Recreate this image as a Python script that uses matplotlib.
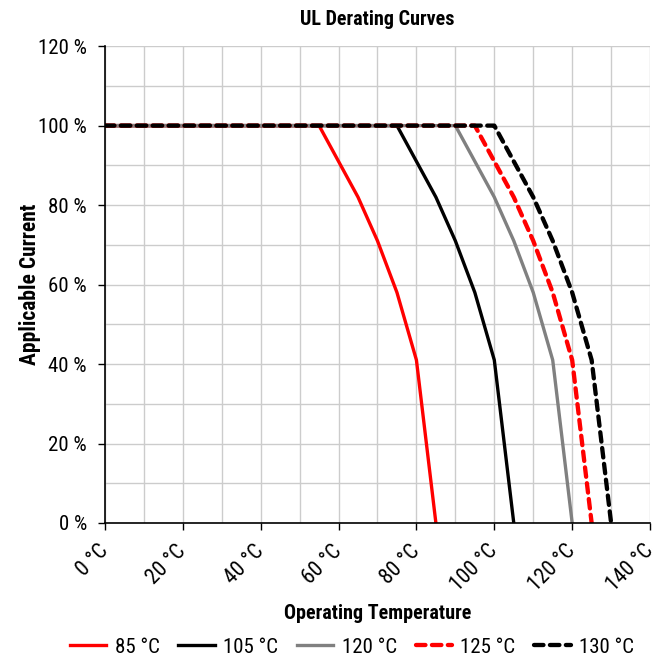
import numpy as np
import matplotlib
matplotlib.use('Agg')
import matplotlib.pyplot as plt
from matplotlib import font_manager

# pick a narrow font if it is installed
nombres = {f.name for f in font_manager.fontManager.ttflist}
fuente = 'DejaVu Sans'
for f in ['Liberation Sans Narrow', 'Roboto Condensed', 'Roboto']:
    if f in nombres:
        fuente = f
        break
plt.rcParams['font.family'] = [fuente, 'DejaVu Sans']

# derating data (temperature in °C, current in %)
temp_85 = [0, 55, 60, 65, 70, 75, 80, 85]
temp_105 = [0, 75, 80, 85, 90, 95, 100, 105]
temp_120 = [0, 90, 95, 100, 105, 110, 115, 120]
temp_125 = [0, 95, 100, 105, 110, 115, 120, 125]
temp_130 = [0, 100, 105, 110, 115, 120, 125, 130]
corriente = [100, 100, 91, 82, 71, 58, 41, 0]

series = ['85 °C', '105 °C', '120 °C', '125 °C', '130 °C']
x_ticks = [0, 20, 40, 60, 80, 100, 120, 140]
y_ticks = [0, 20, 40, 60, 80, 100, 120]

fig = plt.figure(figsize=(6.64, 6.59), dpi=100)
ax = fig.add_axes([0.158, 0.2064, 0.821, 0.7236])

lw = 2.4
ax.plot(temp_85, corriente, color='#ff0000', lw=lw, label=series[0])
ax.plot(temp_105, corriente, color='black', lw=lw, label=series[1])
ax.plot(temp_120, corriente, color='#808080', lw=lw, label=series[2])
ax.plot(temp_125, corriente, color='#ff0000', lw=lw + 0.7, ls=(0, (2.2, 1.5)),
        dash_capstyle='round', label=series[3])
ax.plot(temp_130, corriente, color='black', lw=lw + 0.7, ls=(0, (2.2, 1.5)),
        dash_capstyle='round', label=series[4])

ax.set_xlim(0, 140)
ax.set_ylim(0, 120)
ax.set_xticks(x_ticks)
ax.set_xticklabels([f'{t} °C' for t in x_ticks], rotation=45, ha='right',
                   va='center', rotation_mode='anchor', fontsize=15.5)
ax.set_yticks(y_ticks)
ax.set_yticklabels([f'{t} %' for t in y_ticks], fontsize=15)
ax.set_xticks(np.arange(0, 141, 10), minor=True)
ax.set_yticks(np.arange(0, 121, 10), minor=True)
ax.tick_params(which='minor', length=0)
ax.tick_params(which='major', length=5, width=1, direction='out')
ax.tick_params(axis='y', which='major', pad=8)
ax.tick_params(axis='x', which='major', pad=13)
ax.grid(which='both', color='#cccccc', lw=1)
ax.set_axisbelow(True)
for lado in ['top', 'right']:
    ax.spines[lado].set_visible(False)
ax.spines['left'].set_linewidth(1.2)
ax.spines['bottom'].set_linewidth(1.2)

ax.set_title('UL Derating Curves', fontsize=14.5, fontweight='bold', pad=15)
ax.set_xlabel('Operating Temperature', fontsize=14.5, fontweight='bold', labelpad=6)
ax.set_ylabel('Applicable Current', fontsize=15.5, fontweight='bold', labelpad=-2)

fig.legend(loc='lower center', ncol=5, frameon=False, fontsize=15,
           bbox_to_anchor=(0.53, -0.025), handlelength=1.75, columnspacing=0.9,
           handletextpad=0.4)

fig.savefig('out.png', dpi=100)
